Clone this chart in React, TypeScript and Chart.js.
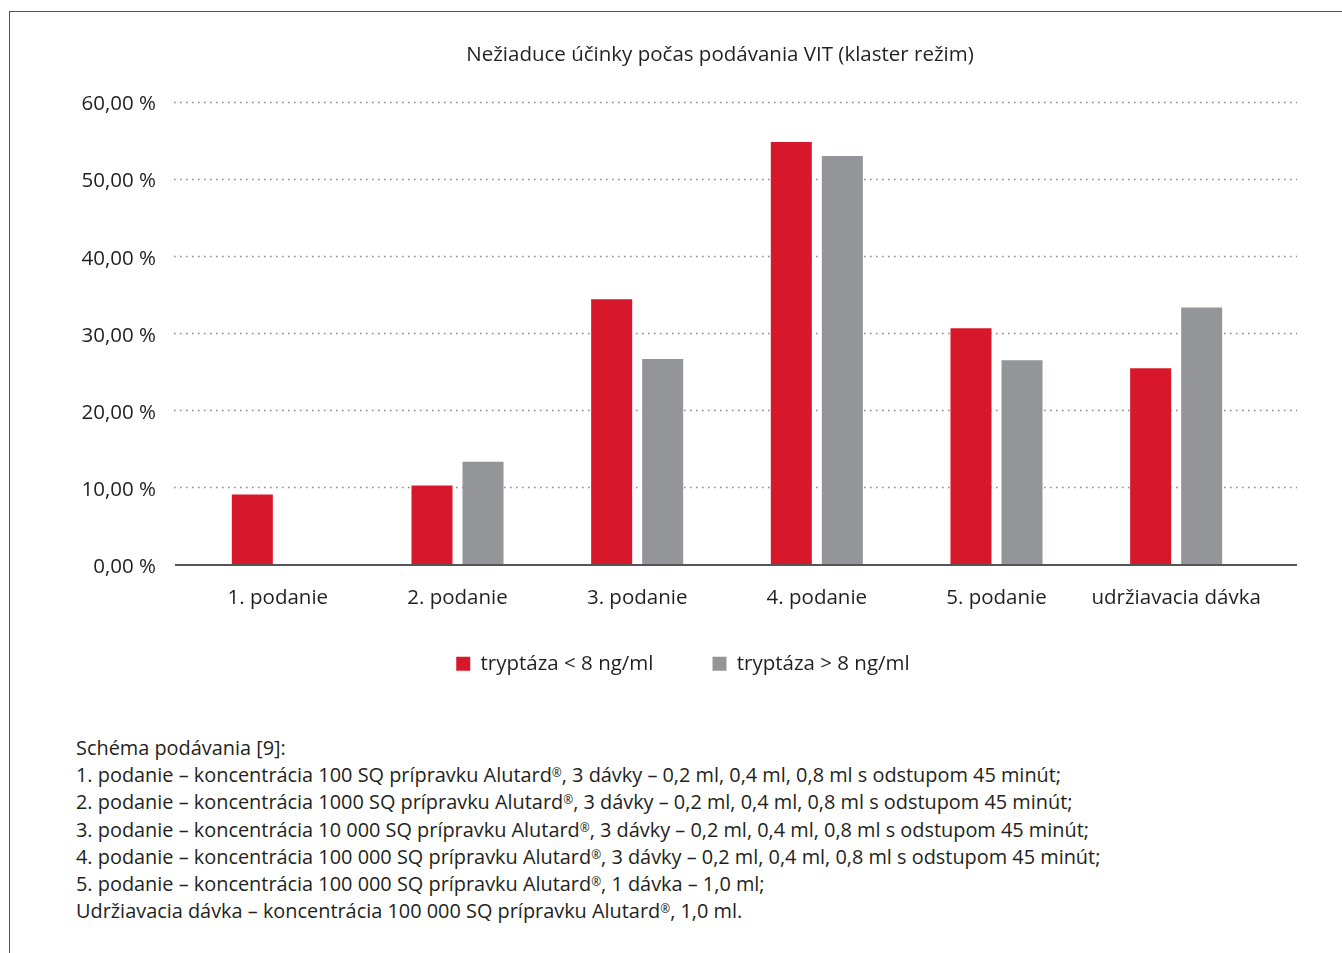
import { useEffect, useRef } from 'react';
import { Chart, registerables } from 'chart.js';

Chart.register(...registerables);

const chartTitle = 'Nežiaduce účinky počas podávania VIT (klaster režim)';
const categories = ['1. podanie', '2. podanie', '3. podanie', '4. podanie', '5. podanie', 'udržiavacia dávka'];
const seriesLabels = ['tryptáza < 8 ng/ml', 'tryptáza > 8 ng/ml'];
const lowTryptase = [9.09, 10.26, 34.4, 54.8, 30.65, 25.45];
const highTryptase = [0, 13.33, 26.67, 53.0, 26.5, 33.33];
const yMin = 0;
const yMax = 60;
const yStep = 10;
const notes = [
  'Schéma podávania [9]:',
  '1. podanie – koncentrácia 100 SQ prípravku Alutard®, 3 dávky – 0,2 ml, 0,4 ml, 0,8 ml s odstupom 45 minút;',
  '2. podanie – koncentrácia 1000 SQ prípravku Alutard®, 3 dávky – 0,2 ml, 0,4 ml, 0,8 ml s odstupom 45 minút;',
  '3. podanie – koncentrácia 10 000 SQ prípravku Alutard®, 3 dávky – 0,2 ml, 0,4 ml, 0,8 ml s odstupom 45 minút;',
  '4. podanie – koncentrácia 100 000 SQ prípravku Alutard®, 3 dávky – 0,2 ml, 0,4 ml, 0,8 ml s odstupom 45 minút;',
  '5. podanie – koncentrácia 100 000 SQ prípravku Alutard®, 1 dávka – 1,0 ml;',
  'Udržiavacia dávka – koncentrácia 100 000 SQ prípravku Alutard®, 1,0 ml.',
];

const RED = '#d7182a';
const GRAY = '#939598';
const TEXT = '#231f20';
const FONT = '"Open Sans", "Noto Sans", sans-serif';
const FS = 20.5;

const layoutPlugin = {
  id: 'shiftBlocks',
  afterLayout(chart: any) {
    const t = chart.titleBlock;
    if (t) {
      t.left -= 7;
      t.right -= 7;
    }
    const lg = chart.legend;
    if (lg) {
      lg.left += 40;
      lg.right += 40;
      lg.top -= 20;
      lg.bottom -= 20;
    }
  },
};

const gridPlugin = {
  id: 'dotGrid',
  beforeDatasetsDraw(chart: any) {
    const { ctx, chartArea, scales } = chart;
    const y = scales.y;
    const left = chartArea.left - 14;
    const right = chartArea.right + 31;
    ctx.save();
    ctx.strokeStyle = '#8a8a8a';
    ctx.lineWidth = 1.6;
    ctx.setLineDash([1.6, 4.4]);
    y.ticks.forEach((t: any) => {
      if (t.value === 0) return;
      const py = Math.round(y.getPixelForValue(t.value)) + 0.5;
      ctx.beginPath();
      ctx.moveTo(left, py);
      ctx.lineTo(right, py);
      ctx.stroke();
    });
    ctx.restore();
  },
  afterDatasetsDraw(chart: any) {
    const { ctx, chartArea, scales } = chart;
    const y = scales.y;
    const left = chartArea.left - 13;
    const right = chartArea.right + 31;
    const py = y.getPixelForValue(0) + 0.5;
    ctx.save();
    ctx.strokeStyle = '#555555';
    ctx.lineWidth = 1.8;
    ctx.beginPath();
    ctx.moveTo(left, py);
    ctx.lineTo(right, py);
    ctx.stroke();
    ctx.restore();
  },
};

function renderNote(text: string) {
  const parts = text.split('®');
  return parts.map((p, i) => (
    <span key={i}>
      {p}
      {i < parts.length - 1 ? (
        <span style={{ fontSize: '0.6em', verticalAlign: '0.45em', lineHeight: 0 }}>®</span>
      ) : null}
    </span>
  ));
}

export default function App() {
  const canvasRef = useRef<HTMLCanvasElement | null>(null);

  useEffect(() => {
    if (!canvasRef.current) return;
    const chart = new Chart(canvasRef.current, {
      type: 'bar',
      data: {
        labels: categories,
        datasets: [
          {
            label: seriesLabels[0],
            data: lowTryptase,
            backgroundColor: RED,
            borderWidth: 0,
            categoryPercentage: 0.568,
            barPercentage: 0.804,
          },
          {
            label: seriesLabels[1],
            data: highTryptase,
            backgroundColor: GRAY,
            borderWidth: 0,
            categoryPercentage: 0.568,
            barPercentage: 0.804,
          },
        ],
      },
      options: {
        animation: false,
        responsive: false,
        maintainAspectRatio: false,
        devicePixelRatio: 1,
        layout: { padding: { left: 20, right: 76, top: 0, bottom: 0 } },
        plugins: {
          title: {
            display: true,
            text: chartTitle,
            fullSize: false,
            color: TEXT,
            font: { family: FONT, size: FS, weight: 'normal' },
            padding: { top: 43, bottom: 34.4 },
          },
          legend: {
            display: true,
            position: 'bottom',
            fullSize: true,
            labels: {
              boxWidth: 14,
              boxHeight: 14,
              padding: 59,
              color: TEXT,
              font: { family: FONT, size: FS },
            },
          },
          tooltip: { enabled: false },
        },
        scales: {
          x: {
            grid: { display: false, drawTicks: false },
            border: { display: false },
            ticks: { color: TEXT, font: { family: FONT, size: FS }, padding: 21, maxRotation: 0 },
            afterFit: (s: any) => {
              s.height = 50;
            },
          },
          y: {
            min: yMin,
            max: yMax,
            grid: { display: false, drawTicks: false },
            border: { display: false },
            ticks: {
              stepSize: yStep,
              color: TEXT,
              font: { family: FONT, size: FS },
              padding: 32,
              labelOffset: 2.5,
              callback: (v: any) => Number(v).toFixed(2).replace('.', ',') + ' %',
            },
            afterFit: (s: any) => {
              s.width = 168;
            },
          },
        },
      },
      plugins: [layoutPlugin, gridPlugin],
    });
    return () => chart.destroy();
  }, []);

  return (
    <div style={{ position: 'fixed', inset: 0, overflow: 'hidden', background: '#fff' }}>
      <div
        style={{
          position: 'absolute',
          left: 9,
          top: 11,
          width: 1400,
          height: 1000,
          borderLeft: '1.5px solid #555',
          borderTop: '1.5px solid #555',
        }}
      />
      <canvas
        ref={canvasRef}
        width={1342}
        height={704}
        style={{ position: 'absolute', left: 0, top: 0, width: 1342, height: 704 }}
      />
      <div
        style={{
          position: 'absolute',
          left: 76,
          top: 734,
          fontFamily: FONT,
          fontSize: 19.9,
          lineHeight: '27.2px',
          color: TEXT,
          whiteSpace: 'nowrap',
        }}
      >
        {notes.map((n, i) => (
          <div key={i} style={{ height: '27.2px' }}>{renderNote(n)}</div>
        ))}
      </div>
    </div>
  );
}
